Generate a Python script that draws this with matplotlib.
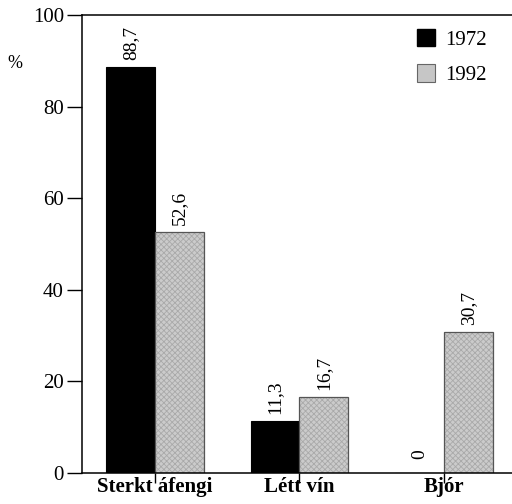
import matplotlib
matplotlib.use("Agg")
import matplotlib.pyplot as plt
import numpy as np
from matplotlib.patches import Patch

categories = ["Sterkt áfengi", "Létt vín", "Bjór"]
values_1972 = [88.7, 11.3, 0.0]
values_1992 = [52.6, 16.7, 30.7]
labels_1972 = ["88,7", "11,3", "0"]
labels_1992 = ["52,6", "16,7", "30,7"]
series_names = ["1972", "1992"]
yticks = [0, 20, 40, 60, 80, 100]

plt.rcParams['font.family'] = ['Liberation Serif', 'DejaVu Serif']
plt.rcParams['hatch.linewidth'] = 0.6

fig = plt.figure(figsize=(5.12, 5.04), dpi=100)
ax = fig.add_axes([82/512, 31/504, (520-82)/512, 458/504])

x = np.arange(len(categories))
w = 0.336
ax.bar(x - w, values_1972, width=w, align='edge', color='black',
       edgecolor='black', linewidth=0.8, label=series_names[0])
# gray stippled fill
ax.bar(x, values_1992, width=w, align='edge', color='#cbcbcb',
       edgecolor='#a9a9a9', linewidth=0, hatch='xxxxxx')
# outline of gray bars
ax.bar(x, values_1992, width=w, align='edge', fill=False,
       edgecolor='#555555', linewidth=0.9)
h1 = Patch(facecolor='black', edgecolor='black', label=series_names[0])
h2 = Patch(facecolor='#c6c6c6', edgecolor='#666666', linewidth=0.8, label=series_names[1])

for xi, v, lab in zip(x - w/2, values_1972, labels_1972):
    ax.annotate(lab, (xi, v), xytext=(0, 5 if v > 0 else 10), textcoords='offset points',
                rotation=90, ha='center', va='bottom', fontsize=14)
for xi, v, lab in zip(x + w/2, values_1992, labels_1992):
    ax.annotate(lab, (xi, v), xytext=(0, 5), textcoords='offset points',
                rotation=90, ha='center', va='bottom', fontsize=14)

ax.set_xlim(-0.505, 2.526)
ax.set_ylim(0, 100)
ax.set_yticks(yticks)
ax.set_yticklabels([str(t) for t in yticks], fontsize=15)
ax.set_xticks(x)
ax.set_xticklabels(categories, fontsize=15, fontweight='bold')
ax.tick_params(axis='y', length=11, width=1.0, pad=2)
ax.tick_params(axis='x', length=7, width=1.0, pad=-4)
for s in ax.spines.values():
    s.set_linewidth(1.1)

fig.text(15/512, 1 - 64/504, "%", fontsize=13, ha='center', va='center')

leg = ax.legend(handles=[h1, h2], loc='upper left', bbox_to_anchor=(417/512, 1 - 29/504),
                bbox_transform=fig.transFigure, frameon=False, fontsize=15,
                handlelength=0.85, handleheight=0.9, handletextpad=0.5,
                labelspacing=0.7, borderpad=0, borderaxespad=0)

fig.savefig("out.png", dpi=100)
